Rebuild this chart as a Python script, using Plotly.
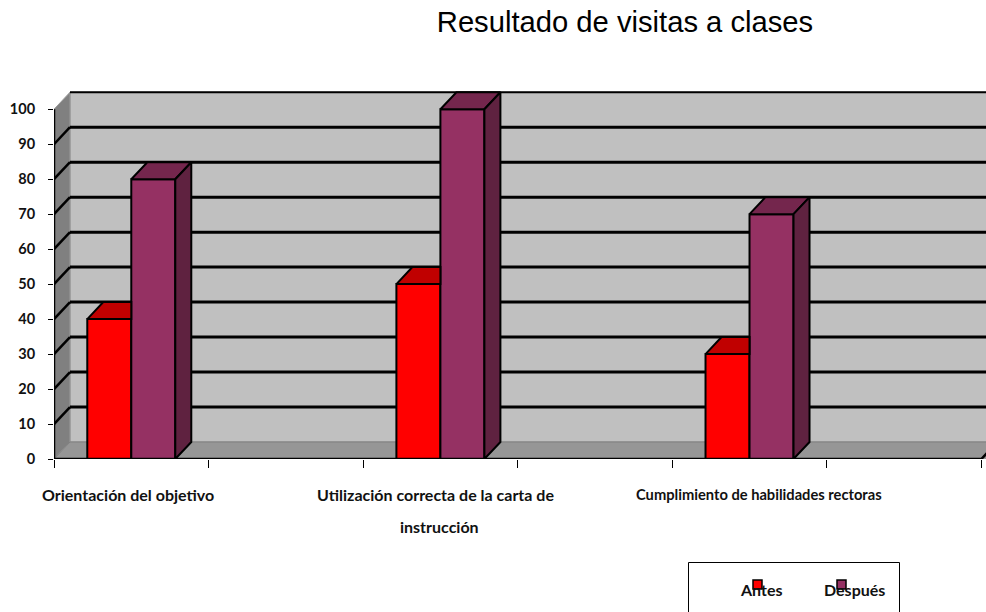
import plotly.graph_objects as go

TITLE = "Resultado de visitas a clases"
CATEGORIES = ["Orientación del objetivo", "Utilización correcta de la carta de", "Cumplimiento de habilidades rectoras"]
CATEGORY_LINE_2 = ["", "instrucción", ""]
SERIES_NAMES = ["Antes", "Después"]
ANTES = [40, 50, 30]
DESPUES = [80, 100, 70]
Y_TICKS = [0, 10, 20, 30, 40, 50, 60, 70, 80, 90, 100]
X_SLOTS = [0.5, 2.5, 4.5]

W, H = 986, 612
L, R, T, B = 54, 986, 90, 459
X_MAX = 6.03
Y_MAX = 105.5
PX_X = (R - L) / X_MAX
PX_Y = (B - T) / Y_MAX
DX = 16 / PX_X
DY = 17 / PX_Y
BAR_W = 44 / PX_X
C_RED, C_RED_TOP = "#ff0000", "#c00000"
C_PUR, C_PUR_TOP, C_PUR_SIDE = "#953163", "#74264d", "#5f2240"
FONT = "Lato"


def poly(points):
    return "M " + " L ".join(f"{x} {y}" for x, y in points) + " Z"


def paper_y(y):
    return (B - y) / (B - T)


def paper_x(x):
    return (x - L) / (R - L)


END = X_MAX + 1
shapes = [
    dict(type="path", path=poly([(DX, DY), (END, DY), (END, 100 + DY), (DX, 100 + DY)]),
         fillcolor="#c0c0c0", line=dict(color="#8c8c8c", width=1), layer="below"),
    dict(type="path", path=poly([(0, 0), (DX, DY), (DX, 100 + DY), (0, 100)]),
         fillcolor="#808080", line=dict(color="#9a9a9a", width=1), layer="below"),
    dict(type="path", path=poly([(0, 0), (6, 0), (6 + DX, DY), (DX, DY)]),
         fillcolor="#969696", line=dict(color="#808080", width=1), layer="below"),
    dict(type="path", path=poly([(6, 0), (END, 0), (END, DY), (6 + DX, DY)]),
         fillcolor="#969696", line=dict(width=0), layer="below"),
]
for v in Y_TICKS[1:]:
    shapes.append(dict(type="line", x0=DX, x1=END, y0=v + DY, y1=v + DY,
                       line=dict(color="#000000", width=3 if v < 100 else 2), layer="below"))
    if v < 100:
        shapes.append(dict(type="line", x0=0, x1=DX, y0=v, y1=v + DY,
                           line=dict(color="#000000", width=2.5), layer="below"))

# Legend box and keys
shapes.append(dict(type="rect", xref="paper", yref="paper",
                   x0=paper_x(688.5), x1=paper_x(899.5), y0=paper_y(630), y1=paper_y(562.5),
                   line=dict(color="#000000", width=1), fillcolor="#ffffff", layer="above"))
for xk, col in zip([753, 837], [C_RED, C_PUR]):
    shapes.append(dict(type="rect", xref="paper", yref="paper",
                       x0=paper_x(xk), x1=paper_x(xk + 9), y0=paper_y(589), y1=paper_y(580),
                       line=dict(color="#000000", width=1.5), fillcolor=col, layer="above"))

fig = go.Figure()
x_red = [x - BAR_W for x in X_SLOTS]
x_pur = list(X_SLOTS)

for name, vals, col in [(SERIES_NAMES[0], ANTES, C_RED), (SERIES_NAMES[1], DESPUES, C_PUR)]:
    fig.add_trace(go.Bar(
        x=X_SLOTS, y=vals, name=name, width=BAR_W,
        offset=-BAR_W if name == SERIES_NAMES[0] else 0,
        marker=dict(color=col, line=dict(color="#000000", width=2)),
        showlegend=False, hoverinfo="skip",
    ))


def faces(builder):
    xs, ys = [], []
    for i in range(len(X_SLOTS)):
        for x, y in builder(i):
            xs.append(x)
            ys.append(y)
        xs.append(None)
        ys.append(None)
    return xs, ys


def red_top(i):
    a, b, v = x_red[i], X_SLOTS[i], ANTES[i]
    return [(a, v), (b, v), (b, v + DY), (a + DX, v + DY), (a, v)]


def pur_top(i):
    a, b, v = x_pur[i], x_pur[i] + BAR_W, DESPUES[i]
    return [(a, v), (b, v), (b + DX, v + DY), (a + DX, v + DY), (a, v)]


def pur_side(i):
    b, v = x_pur[i] + BAR_W, DESPUES[i]
    return [(b, 0), (b + DX, DY), (b + DX, v + DY), (b, v), (b, 0)]


for builder, col in [(red_top, C_RED_TOP), (pur_top, C_PUR_TOP), (pur_side, C_PUR_SIDE)]:
    xs, ys = faces(builder)
    fig.add_trace(go.Scatter(x=xs, y=ys, mode="lines", fill="toself", fillcolor=col,
                             line=dict(color="#000000", width=2), cliponaxis=False,
                             showlegend=False, hoverinfo="skip"))

# Axis lines, stopped at the data extents
fig.add_trace(go.Scatter(x=[0, 0, 6, 6 + DX * 0.35], y=[Y_TICKS[-1], 0, 0, DY * 0.35], mode="lines",
                         line=dict(color="#000000", width=2.5), cliponaxis=False,
                         showlegend=False, hoverinfo="skip"))

annotations = []
for text, cx, size in zip(CATEGORIES, [127.5, 435.5, 758.5], [16, 16, 14.7]):
    annotations.append(dict(text=f"<b>{text}</b>", xref="paper", yref="paper", x=paper_x(cx), y=paper_y(494),
                            xanchor="center", yanchor="middle", showarrow=False,
                            font=dict(family=FONT, size=size, color="#111111")))
for text, cx in zip(CATEGORY_LINE_2, [127.5, 439, 758.5]):
    if text:
        annotations.append(dict(text=f"<b>{text}</b>", xref="paper", yref="paper", x=paper_x(cx), y=paper_y(526),
                                xanchor="center", yanchor="middle", showarrow=False,
                                font=dict(family=FONT, size=16, color="#111111")))
for text, cx in zip(SERIES_NAMES, [760.5, 854]):
    annotations.append(dict(text=f"<b>{text}</b>", xref="paper", yref="paper", x=paper_x(cx), y=paper_y(589),
                            xanchor="center", yanchor="middle", showarrow=False,
                            font=dict(family=FONT, size=16, color="#111111")))

fig.update_layout(
    width=W, height=H, autosize=False,
    margin=dict(l=L, r=W - R, t=T, b=H - B, pad=0, autoexpand=False),
    paper_bgcolor="#ffffff", plot_bgcolor="#ffffff",
    barmode="overlay", showlegend=False,
    title=dict(text=TITLE, x=625 / W, xref="container", xanchor="center",
               y=1 - 22 / H, yref="container", yanchor="middle",
               font=dict(family="Liberation Sans", size=29.2, color="#000000")),
    xaxis=dict(range=[0, X_MAX], tickmode="array", tickvals=[0, 1, 2, 3, 4, 5, 6],
               ticktext=[""] * 7, ticks="outside", ticklen=8, tickwidth=1, tickcolor="#000000",
               showgrid=False, zeroline=False, showline=False),
    yaxis=dict(range=[0, Y_MAX], tickmode="array", tickvals=Y_TICKS,
               ticktext=[f"<b>{v}</b>" for v in Y_TICKS], ticks="outside", ticklen=5, tickwidth=1,
               tickcolor="#000000", ticklabelstandoff=10,
               tickfont=dict(family=FONT, size=14.5, color="#111111"),
               showgrid=False, zeroline=False, showline=False),
    shapes=shapes, annotations=annotations,
)

fig.write_html("out.html", config=dict(displayModeBar=False),
               post_script="document.body.style.margin='0';document.body.style.overflow='hidden';")
